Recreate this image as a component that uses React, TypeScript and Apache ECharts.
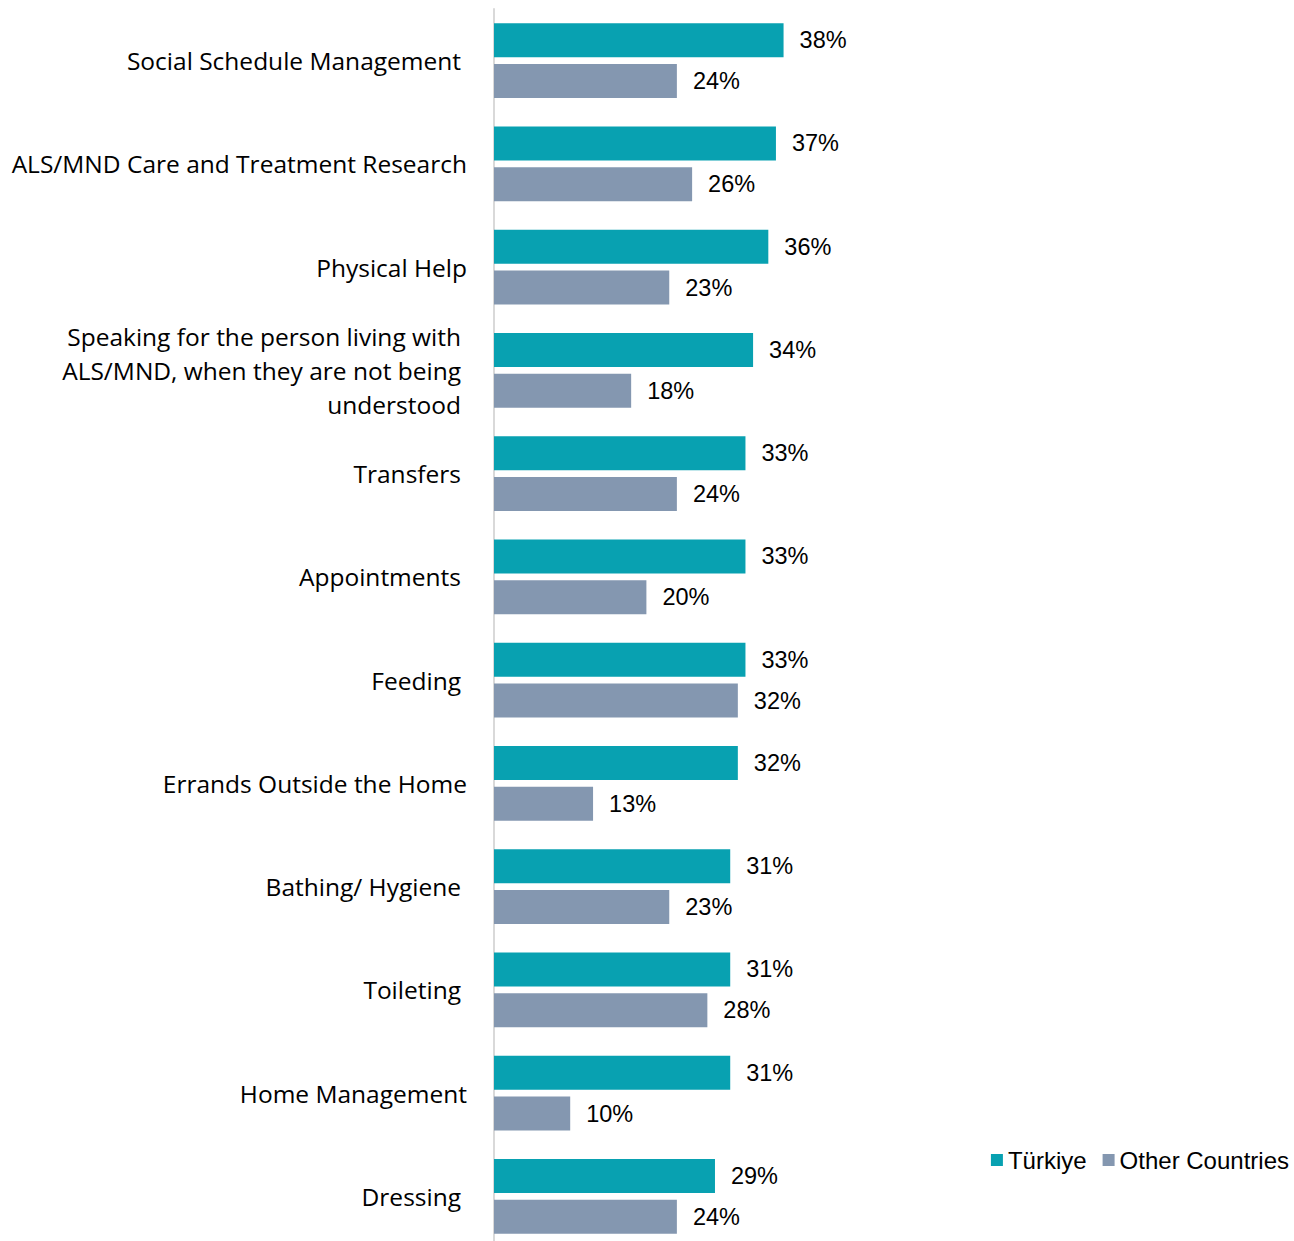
import React, { useEffect, useRef } from "react";
import * as echarts from "echarts";

const categories = [
  "Social Schedule Management ",
  "ALS/MND Care and Treatment Research",
  "Physical Help",
  "Speaking for the person living with\nALS/MND, when they are not being\nunderstood ",
  "Transfers ",
  "Appointments ",
  "Feeding ",
  "Errands Outside the Home",
  "Bathing/ Hygiene ",
  "Toileting ",
  "Home Management",
  "Dressing ",
];
const turkiye = [38, 37, 36, 34, 33, 33, 33, 32, 31, 31, 31, 29];
const otherCountries = [24, 26, 23, 18, 24, 20, 32, 13, 23, 28, 10, 24];
const seriesNames = ["Türkiye", "Other Countries"];
const colors = ["#08A1B1", "#8497B0"];

const catFont = "Open Sans, Noto Sans, sans-serif";
const numFont = "Liberation Sans, Arial, sans-serif";

export default function App() {
  const ref = useRef<HTMLDivElement>(null);
  useEffect(() => {
    if (!ref.current) return;
    const chart = echarts.init(ref.current, null, { renderer: "svg" });
    const valueLabel = {
      show: true,
      position: "right",
      distance: 16,
      formatter: "{c}%",
      color: "#000",
      fontSize: 23.5,
      fontFamily: numFont,
    };
    const richBase = { fontSize: 24.5, lineHeight: 34, color: "#000", fontFamily: catFont };
    chart.setOption({
      animation: false,
      backgroundColor: "#fff",
      legend: {
        data: seriesNames,
        right: 0,
        top: 1143,
        itemWidth: 12,
        itemHeight: 12,
        itemGap: 16,
        icon: "rect",
        textStyle: { fontSize: 24, color: "#000", fontFamily: numFont },
      },
      grid: { left: 494, top: 9, width: 762, height: 1239, containLabel: false },
      xAxis: { type: "value", min: 0, max: 100, show: false },
      yAxis: {
        type: "category",
        inverse: true,
        data: categories,
        axisLine: { show: true, lineStyle: { color: "#D9D9D9", width: 2 } },
        axisTick: { show: false },
        axisLabel: {
          margin: 27,
          color: "#000",
          fontSize: 24.5,
          lineHeight: 34,
          fontFamily: catFont,
          align: "right",
          formatter: (v: string) => {
            const trailing = v.endsWith(" ");
            const lines = v.trimEnd().split("\n");
            return lines.map((l) => (trailing ? `{p|${l}}` : `{n|${l}}`)).join("\n");
          },
          rich: {
            p: { ...richBase, padding: [0, 6, 0, 0] },
            n: { ...richBase },
          },
        },
        splitLine: { show: false },
      },
      series: [
        {
          name: seriesNames[0],
          type: "bar",
          data: turkiye,
          barWidth: 34,
          barGap: "20%",
          itemStyle: { color: colors[0] },
          label: valueLabel,
        },
        {
          name: seriesNames[1],
          type: "bar",
          data: otherCountries,
          barWidth: 34,
          barGap: "20%",
          itemStyle: { color: colors[1] },
          label: valueLabel,
        },
      ],
    });
    return () => chart.dispose();
  }, []);
  return (
    <div style={{ position: "absolute", left: 0, top: 0, width: 1294, height: 1241, overflow: "hidden" }}>
      <div ref={ref} style={{ width: 1294, height: 1252 }} />
    </div>
  );
}
